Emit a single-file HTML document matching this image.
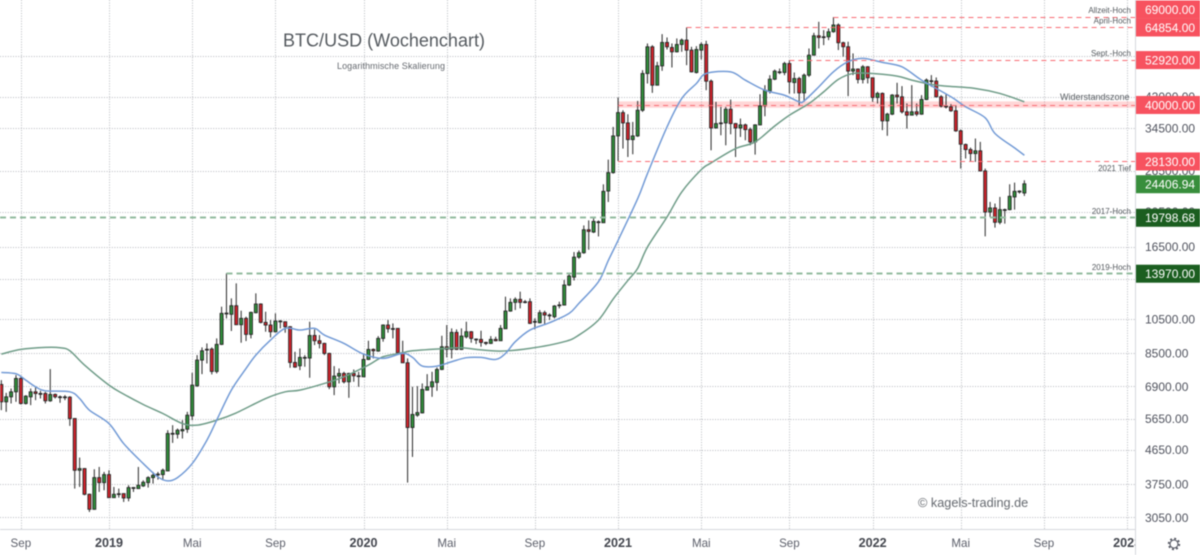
<!DOCTYPE html>
<html lang="de">
<head>
<meta charset="utf-8">
<title>BTC/USD Wochenchart</title>
<style>
html,body{margin:0;padding:0;background:#fff;width:1200px;height:555px;overflow:hidden}
svg{display:block;font-family:"Liberation Sans",sans-serif;filter:blur(0.4px)}
</style>
</head>
<body>
<svg id="chart" width="1200" height="555" viewBox="0 0 1200 555">
  <defs>
    <clipPath id="plot-clip"><rect x="0" y="0" width="1135" height="555"></rect></clipPath>
  </defs>
  <rect x="0" y="0" width="1200" height="555" fill="#ffffff"></rect>
  <g id="grid"></g>
  <g id="bands"></g>
  <g id="candles"></g>
  <g id="averages"></g>
  <g id="levels"></g>
  <text x="283" y="46.5" font-size="18" fill="#555a5f" textLength="202">BTC/USD (Wochenchart)</text>
  <text x="337" y="69" font-size="9" fill="#666a70" textLength="108">Logarithmische Skalierung</text>
  <text x="918" y="507" font-size="12.7" fill="#666a70">© kagels-trading.de</text>
  <g font-size="8" fill="#555a5f" text-anchor="end">
    <text x="1131" y="13">Allzeit-Hoch</text>
    <text x="1131" y="23.5">April-Hoch</text>
    <text x="1131" y="56">Sept.-Hoch</text>
    <text x="1129.5" y="100" font-size="9">Widerstandszone</text>
    <text x="1131" y="171">2021 Tief</text>
    <text x="1131" y="214">2017-Hoch</text>
    <text x="1131" y="270">2019-Hoch</text>
  </g>
  <line x1="0" y1="529.5" x2="1135" y2="529.5" stroke="#d6d8dd"></line>
  <line x1="1135.5" y1="0" x2="1135.5" y2="555" stroke="#d6d8dd"></line>
  <g id="time-axis" clip-path="url(#plot-clip)"></g>
  <g id="price-axis"></g>
  <g id="price-boxes"></g>
  <g transform="translate(1174 544)" fill="none" stroke="#50535e">
    <circle r="4" stroke-width="1.1"></circle>
    <circle r="5.4" stroke-width="1.6" stroke-dasharray="2 2.24"></circle>
  </g>
</svg>
<script>
// Weekly OHLC values in USD; index = week number.
const opens = [
6986,6270,6468,6673,7253,6205,6468,6673,6604,6604,
6310,6564,6468,6455,6455,5650,4092,4135,3523,3208,
3909,3789,3983,3450,3535,3537,3443,3673,3650,3712,
3789,3909,3985,3983,4075,5145,5125,5232,5286,5745,
6928,8132,8690,8710,7577,8970,10883,10820,11415,10140,
10548,9546,10928,11536,10288,10118,9705,10375,10330,10013,
8014,7850,8255,8237,9482,9176,9024,8478,6885,7360,
7483,7104,7483,7375,7329,8166,8692,8602,9310,10118,
9890,9910,8513,7998,5342,5769,5852,6743,6885,7075,
7672,8838,8692,9665,8692,9407,9705,9270,9252,9080,
9024,9252,9176,9888,11040,11655,11876,11700,11705,10330,
10266,10928,10770,10658,11450,11460,12986,13640,15450,15880,
18330,18070,19230,19150,23330,26170,32900,38050,35680,32150,
32900,38610,48550,57340,45140,50920,58920,57100,55580,58180,
59780,56160,48860,56160,58180,46280,34580,35530,35680,38860,
35530,34580,35240,34220,31690,35240,39680,43570,46860,49060,
48860,51670,45890,47050,43030,48040,54430,61420,61040,61040,
63010,65690,58820,57370,49290,49910,46790,50630,47270,41810,
42880,36140,37680,42430,41990,38240,37450,38240,37680,41290,
46400,46300,41990,39610,39450,38480,33960,31180,30220,29480,
29980,26450,20480,21000,19200,20700,20780,22490,23200,23050];
const highs = [
7178,6630,6814,7406,7360,6536,6814,6857,6715,6673,
7688,6604,6522,6536,6495,5660,4429,4150,3537,4118,
4178,4050,4092,3688,3650,3545,3727,3688,4178,3844,
3941,4050,4050,4135,5253,5420,5309,5591,5890,7514,
8390,8803,9024,8803,9310,11345,13969,11950,13123,11066,
10658,10995,12330,11584,10995,10439,10883,10439,10340,10055,
8565,8745,8390,10330,9848,9506,9060,8513,7834,7720,
7560,7514,7670,7560,8478,9176,8747,9445,10160,10439,
10224,9920,9176,8218,6885,6914,7030,7451,7560,7768,
9465,10118,9910,9848,9910,10330,9746,9310,9767,9120,
9445,9407,10118,12076,11950,12027,12460,11827,11950,10548,
11111,11066,10883,11460,11705,13399,14030,15950,16110,18830,
19430,19840,19430,24330,28380,34800,41790,38610,37660,35900,
40930,49570,58550,57940,52210,62060,60790,58550,60410,60410,
64700,57340,57580,58920,59540,46760,40680,39430,39430,41270,
35680,36660,35530,34650,35380,42670,45140,48040,49770,50090,
52210,52760,48860,47540,48550,56750,62570,67020,63630,64300,
69000,66370,59190,59190,55030,50110,51170,50840,47370,43320,
43140,38000,42700,45820,44880,40280,45160,40280,42430,47080,
48070,47370,42430,42700,40120,39860,34240,31370,30600,32370,
31700,26840,21800,21580,22490,20910,24340,24590,23440,24950];
const lows = [
5952,5890,6205,6270,6166,6166,6141,6335,6400,6205,
6270,6400,6231,6335,5396,3650,3688,3500,3155,3200,
3575,3612,3445,3445,3450,3358,3372,3575,3645,3688,
3673,3765,3860,3844,4070,4853,4987,4987,5166,5591,
6885,7451,7965,7437,7483,8930,10548,9750,10120,9062,
9157,9310,10883,10224,9705,9368,9665,9910,9645,7752,
7752,7640,7801,7285,8930,8747,8390,6785,6536,7030,
7030,6428,7104,6885,7320,8132,8218,8565,9120,9645,
9310,8478,7990,3789,4447,5709,5829,6735,6468,6715,
7640,8270,8218,8656,8656,9310,9062,8988,8838,8930,
8988,9140,9170,9880,10995,11111,11228,11584,10181,9848,
10224,10118,10439,10548,11228,11440,12905,13360,15290,15780,
16180,17950,17580,19120,21790,26000,28140,30400,28850,29340,
32690,38210,45610,43030,45050,49360,56390,50400,55350,55580,
51140,48860,48550,52980,43750,30080,34440,33030,31030,33240,
28850,32690,32020,31030,29280,35170,37190,42850,46570,48350,
48040,42850,42850,39850,40680,47540,54300,56750,57940,59780,
62600,56190,53900,42160,48070,45630,45630,45630,40700,40280,
34100,32920,37450,40280,37840,34450,37400,37210,37530,41120,
44690,41810,39290,39040,38240,33750,26840,28570,27980,27980,
26400,17590,19850,18570,18960,19040,20690,20780,22960,22630];
const closes = [
6270,6468,6673,7253,6205,6495,6673,6604,6590,6310,
6564,6468,6455,6465,5650,4092,4135,3523,3208,3909,
3789,3983,3450,3523,3523,3443,3673,3665,3727,3797,
3909,3966,3995,4092,5145,5150,5253,5275,5769,6957,
8132,8620,8700,7577,8970,10883,10900,11415,10140,10548,
9546,10950,11536,10288,10118,9705,10375,10350,10013,8014,
7785,8270,8270,9482,9176,9024,8478,6885,7360,7483,
7104,7483,7375,7360,8166,8692,8620,9310,10118,9888,
9900,8513,7998,5342,5795,5863,6771,6885,7104,7672,
8838,8692,9665,8692,9445,9705,9310,9255,9080,9024,
9252,9176,9910,11040,11655,11876,11655,11680,10224,10350,
10928,10770,10725,11391,11470,12986,13738,15450,15880,18330,
18140,19310,19260,23290,26170,32900,38050,35680,32150,32900,
38610,48550,57340,45140,50920,58920,57340,55580,58180,59780,
56160,49060,56390,58180,46280,34580,35530,35680,38860,35530,
34580,35240,34220,31690,35240,39680,43750,46860,49260,48960,
51670,46090,47050,43030,48040,54430,61420,60790,60900,62970,
65690,58820,57370,49290,49910,46790,50630,47270,41810,42880,
36140,37680,42430,41990,38240,37450,38240,37680,41290,46590,
46300,41990,39610,39450,38480,33960,31240,30220,29480,29980,
26450,20480,21000,19200,20780,20780,22580,23290,23320,24406.94];

// Moving averages, sampled at the listed week numbers.
const blueWeeks = [0,3,5,7,9,14,16,18,22,25,29,32,34,36,39,42,44,47,50,52,55,58,61,64,66,70,74,78,82,84,86,89,92,95,98,101,103,105,108,112,116,118,122,124,126,130,132,136,139,142,144,149,152,156,160,163,164,167,170,173,176,180,184,188,194,197,201,203,207,209];
const blueValues = [7530,7468,7178,6885,6715,6673,6400,5952,5476,4833,4266,3925,3830,3909,4266,4935,5591,6743,7720,8390,9214,9910,9807,9910,9506,9024,8443,8218,8478,8270,7834,7834,8050,8255,8270,8166,8478,9120,9807,10266,10883,11584,13260,15130,17150,22240,26000,34800,41530,45610,48550,49060,46570,43750,42400,40680,40930,44670,49080,52250,53340,52030,50630,46590,41990,39450,36840,33400,30530,29170];
const greenWeeks = [0,4,9,12,14,17,22,25,29,33,37,40,44,48,54,58,61,66,70,75,78,82,84,90,94,97,102,108,115,118,122,125,128,130,132,136,139,143,145,150,154,158,161,165,168,171,174,178,183,186,190,193,199,204,209];
const greenValues = [8443,8692,8803,8785,8620,7883,6957,6578,6166,5829,5476,5420,5591,5852,6400,6673,6743,7030,7329,7883,8303,8513,8620,8730,8785,8692,8602,8747,9120,9506,10439,11900,13360,14410,16450,19840,23190,26660,27800,30400,31690,35000,37430,40260,43300,46800,48570,48570,47770,46590,45350,44880,44230,42880,40700];

// Axis ticks.
const timeTickWeeks = [4,22,39,56,74,91,109,126,143,161,178,196,213,230];
const timeTickLabels = ['Sep','2019','Mai','Sep','2020','Mai','Sep','2021','Mai','Sep','2022','Mai','Sep','2023'];
const priceTicks = [42000,34500,26500,20500,16500,10500,8500,6900,5650,4650,3750,3050];
const coveredPriceTicks = [54000,13500];

// Horizontal levels and their price labels.
const levelPrices = [69000,64854,52920,40000,28130,19798.68,13970];
const levelStartWeeks = [170,140,161,126,126,-1,46];
const levelKinds = ['resistance','resistance','resistance','resistance','resistance','support','support'];
const zoneTop = 40800;
const zoneBottom = 39200;
const lastPrice = 24406.94;

const NS = 'http://www.w3.org/2000/svg';
function xScale(week){ return 1.3 + 4.895 * week; }
function yScale(price){ return 128.3 + 160.4 * Math.log(34500 / price); }
function make(tag, parent, geometry){
  const node = document.createElementNS(NS, tag);
  for (const key in geometry) node.setAttribute(key, geometry[key]);
  parent.appendChild(node);
  return node;
}

// Grid
const gridGroup = document.getElementById('grid');
priceTicks.concat(coveredPriceTicks).forEach(function(price){
  const y = Math.round(yScale(price)) + 0.5;
  const el = make('line', gridGroup, {x1:0, x2:1135, y1:y, y2:y, stroke:'#b8bac0', 'stroke-dasharray':'1 1.6'});
  
  
});
timeTickWeeks.forEach(function(week){
  const x = Math.round(xScale(week)) + 0.5;
  const el = make('line', gridGroup, {x1:x, x2:x, y1:0, y2:529, stroke:'#b8bac0', 'stroke-dasharray':'1 1.6'});
  
  
});

// Resistance zone
const zone = make('rect', document.getElementById('bands'), {
  x: xScale(126), width: 1135 - xScale(126),
  y: yScale(zoneTop), height: yScale(zoneBottom) - yScale(zoneTop),
  fill: '#ff5258', 'fill-opacity': 0.24
});



// Candles
const candleGroup = document.getElementById('candles');
opens.forEach(function(open, i){
  const x = xScale(i);
  const rising = closes[i] >= open;
  const top = yScale(Math.max(open, closes[i]));
  const bottom = yScale(Math.min(open, closes[i]));
  const wick = make('line', candleGroup, {x1:x, x2:x, y1:yScale(highs[i]), y2:yScale(lows[i]), stroke:'#333333', 'stroke-width':1.05});
  
  
  const body = make('rect', candleGroup, {
    x: x - 1.5, width: 3, y: top, height: Math.max(bottom - top, 0.8),
    fill: rising ? '#2f8f3a' : '#d3222a', stroke: '#262626', 'stroke-width': 0.9
  });
  
  
});

// Moving averages, smoothed through the sampled values
function linePath(weeks, values){
  const pts = weeks.map(function(week, i){
    return [xScale(week), yScale(values[i])];
  });
  let d = 'M' + pts[0][0].toFixed(2) + ' ' + pts[0][1].toFixed(2);
  for (let i = 0; i < pts.length - 1; i++) {
    const a = pts[Math.max(i - 1, 0)], b = pts[i], c = pts[i + 1], e = pts[Math.min(i + 2, pts.length - 1)];
    const c1x = b[0] + (c[0] - a[0]) / 6, c1y = b[1] + (c[1] - a[1]) / 6;
    const c2x = c[0] - (e[0] - b[0]) / 6, c2y = c[1] - (e[1] - b[1]) / 6;
    d += ' C' + c1x.toFixed(2) + ' ' + c1y.toFixed(2) + ' ' + c2x.toFixed(2) + ' ' + c2y.toFixed(2) + ' ' + c[0].toFixed(2) + ' ' + c[1].toFixed(2);
  }
  return d;
}
const averagesGroup = document.getElementById('averages');
const greenLine = make('path', averagesGroup, {d:linePath(greenWeeks, greenValues), fill:'none', stroke:'#6f9c88', 'stroke-width':1.5, 'stroke-linejoin':'round'});


const blueLine = make('path', averagesGroup, {d:linePath(blueWeeks, blueValues), fill:'none', stroke:'#739bd6', 'stroke-width':1.5, 'stroke-linejoin':'round'});



// Level lines
const levelGroup = document.getElementById('levels');
levelPrices.forEach(function(price, i){
  const y = Math.round(yScale(price)) + 0.5;
  const red = levelKinds[i] === 'resistance';
  const el = make('line', levelGroup, {
    x1: Math.max(0, xScale(levelStartWeeks[i])), x2: 1135, y1: y, y2: y,
    stroke: red ? '#f86a72' : '#93bb9f',
    'stroke-width': red ? 1 : 2,
    'stroke-dasharray': red ? '5 4' : '6 4'
  });
  
  
});

// Time axis labels
const timeGroup = document.getElementById('time-axis');
timeTickLabels.forEach(function(label, i){
  const year = /^\d+$/.test(label);
  const el = make('text', timeGroup, {
    x: xScale(timeTickWeeks[i]), y: 547, 'text-anchor': 'middle',
    'font-size': year ? 12.6 : 11.6, 'font-weight': year ? 'bold' : 'normal',
    fill: year ? '#44474f' : '#5d606b'
  });
  el.textContent = label;
  
  
});

// Price axis labels
const priceGroup = document.getElementById('price-axis');
priceTicks.forEach(function(price){
  const el = make('text', priceGroup, {x:1145, y:yScale(price) + 4.4, 'font-size':12, fill:'#50535e'});
  el.textContent = price.toFixed(2);
  
  
});

// Price label boxes, stacked upward where they would collide
const boxGroup = document.getElementById('price-boxes');
const boxEntries = levelPrices.map(function(price, i){
  return {price: price, kind: levelKinds[i]};
});
boxEntries.push({price: lastPrice, kind: 'last'});
boxEntries.sort(function(a, b){ return a.price - b.price; });
let previousCentre = Infinity;
boxEntries.forEach(function(entry){
  let centre = yScale(entry.price) + 0.4;
  if (centre > previousCentre - 18) centre = previousCentre - 18;
  previousCentre = centre;
  const fill = entry.kind === 'resistance' ? '#f7525f' : (entry.kind === 'last' ? '#388e3c' : '#1b5e20');
  const box = make('rect', boxGroup, {x:1136, y:centre - 9, width:64, height:18, fill:fill});
  
  
  const text = make('text', boxGroup, {x:1145, y:centre + 4.4, 'font-size':12, fill:'#ffffff'});
  text.textContent = entry.price.toFixed(2);
  
  
});
</script>
</body>
</html>
